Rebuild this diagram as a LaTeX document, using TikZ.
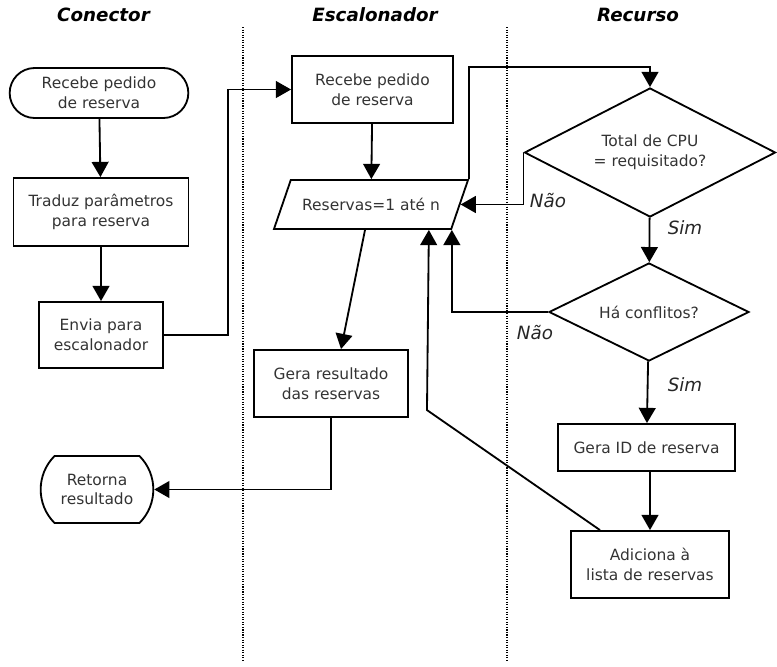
\documentclass[tikz,border=0pt]{standalone}
\usepackage{fontspec}
\setmainfont{DejaVu Sans}
\usetikzlibrary{arrows.meta,shapes.geometric,shapes.misc,positioning}

\begin{document}
\begin{tikzpicture}[x=0.025cm,y=-0.025cm,
    >={Triangle[length=0.38cm,width=0.42cm]},
    every node/.style={font=\fontsize{11}{14}\selectfont, text=black!80, align=center},
    passo/.style={rectangle, draw, line width=1.3pt, inner sep=2pt},
    termo/.style={rounded rectangle, draw, line width=1.3pt},
    decisao/.style={diamond, draw, line width=1.3pt, inner sep=0pt},
    laco/.style={trapezium, trapezium left angle=70, trapezium right angle=110,
                 trapezium stretches body, inner ysep=0.42cm, draw, line width=1.3pt},
    resposta/.style={font=\fontsize{13}{16}\selectfont\itshape, text=black!85},
    raia/.style={font=\fontsize{13}{16}\selectfont\bfseries\itshape, text=black},
    fluxo/.style={line width=1.3pt}]
   \useasboundingbox (0,0) rectangle (777,666);

   % lanes
   \node[raia] (hcon) at (103.5,15) {Conector};
   \node[raia] (hesc) at (375,15)   {Escalonador};
   \node[raia] (hrec) at (638,15)   {Recurso};
   \draw[densely dotted, line width=0.8pt] (243,27) -- (243,662);
   \draw[densely dotted, line width=0.8pt] (507,27) -- (507,662);

   % conector
   \node[termo, minimum width=4.7cm, minimum height=1.25cm] (inicio) at (99,93)
        {Recebe pedido\\de reserva};
   \node[passo, minimum width=4.375cm, minimum height=1.7cm] (trad) at (101,212)
        {Traduz parâmetros\\para reserva};
   \node[passo, minimum width=3.1cm, minimum height=1.65cm] (envia) at (101,335)
        {Envia para\\escalonador};
   \node[termo, rounded rectangle arc length=90, minimum width=3.05cm,
         minimum height=1.675cm] (retorna) at (97,489.5)
        {Retorna\\resultado};

   % escalonador
   \node[passo, minimum width=4.025cm, minimum height=1.675cm] (recebe) at (372.5,89.5)
        {Recebe pedido\\de reserva};
   \node[laco, minimum width=4.85cm, minimum height=1.225cm] (reservas) at (371,204.5)
        {Reservas=1 até n};
   \node[passo, minimum width=3.85cm, minimum height=1.675cm] (gerares) at (331,383.5)
        {Gera resultado\\das reservas};

   % recurso
   \node[decisao, aspect=1.95, minimum width=6.275cm, minimum height=3.225cm] (cpu)
        at (650,152.5) {Total de CPU\\= requisitado?};
   \node[decisao, aspect=2.04, minimum width=5cm, minimum height=2.45cm] (conf)
        at (649,312) {Há conflitos?};
   \node[passo, minimum width=4.425cm, minimum height=1.175cm] (geraid) at (646.5,447.5)
        {Gera ID de reserva};
   \node[passo, minimum width=3.95cm, minimum height=1.675cm] (adic) at (650,564.5)
        {Adiciona à\\lista de reservas};

   \node[resposta] (nao1) at (548,201) {Não};
   \node[resposta] (sim1) at (685,228) {Sim};
   \node[resposta] (nao2) at (535,333) {Não};
   \node[resposta] (sim2) at (685,385) {Sim};

   \path[->, fluxo]
    (inicio) edge (trad)
    (trad)   edge (envia)
    (recebe) edge (reservas)
    (cpu)    edge (conf)
    (conf)   edge (geraid)
    (geraid.south -| adic.north) edge (adic.north);

   \draw[->, fluxo] (envia.east) -- ++(64,0) |- (recebe.west);
   \draw[->, fluxo] (reservas.top right corner) -- ++(0,-112) -| (cpu.north);
   \draw[->, fluxo] (cpu.west) |- (reservas.east);
   \draw[->, fluxo] (conf.west) -| (reservas.bottom right corner);
   \draw[->, fluxo] ([xshift=-0.15cm]reservas.south) -- ([xshift=0.25cm]gerares.north);
   \draw[->, fluxo] (gerares.south) |- (retorna.east);
   \draw[->, fluxo] ([xshift=-1.25cm]adic.north) -- ++(-173,-120)
        -- ([xshift=-0.575cm]reservas.bottom right corner);
\end{tikzpicture}
\end{document}
